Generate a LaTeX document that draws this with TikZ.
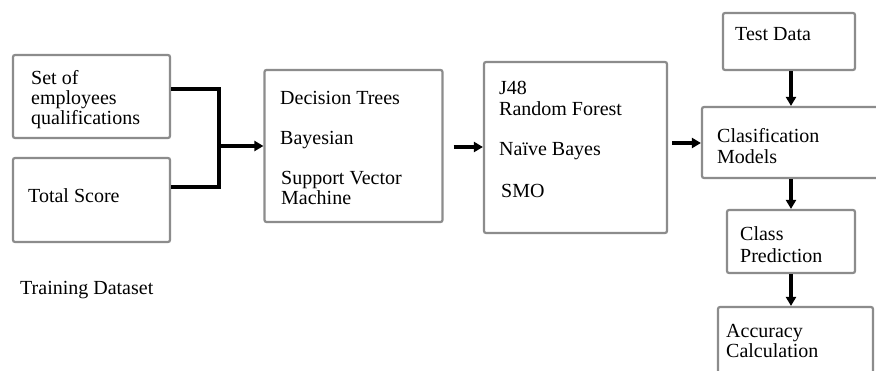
\documentclass[tikz,border=0pt]{standalone}
\usepackage{fontspec}
\setmainfont{Liberation Serif}
\usetikzlibrary{arrows.meta}
\begin{document}
\begin{tikzpicture}[x=1pt,y=-1pt,
  box/.style={draw=black!45, line width=2.2pt, rounded corners=2pt, fill=white, inner sep=0pt},
  txt/.style={anchor=base west, inner sep=0pt, font=\fontsize{20}{20}\selectfont},
  conn/.style={line width=3.5pt, black},
  arr/.style={conn, -{Triangle[length=9pt,width=10pt]}}]
\clip (0,0) rectangle (876,370);
\fill[white] (0,0) rectangle (876,370);
% boxes
\node[box, minimum width=157pt, minimum height=83pt] (b1) at (91.5,96.5) {};
\node[box, minimum width=157pt, minimum height=84pt] (b2) at (91.5,200) {};
\node[box, minimum width=178pt, minimum height=152pt] (b3) at (353.5,146) {};
\node[box, minimum width=183pt, minimum height=171pt] (b4) at (575.5,147.5) {};
\node[box, minimum width=132pt, minimum height=57pt] (td) at (789,41.5) {};
\node[box, minimum width=178pt, minimum height=71pt] (cm) at (791,142.5) {};
\node[box, minimum width=128pt, minimum height=63pt] (cp) at (791,241.5) {};
\node[box, minimum width=155pt, minimum height=75pt] (ac) at (795.5,344.5) {};
% texts
\node[txt] (t1a) at (31,84) {Set of};
\node[txt] (t1b) at (31,104) {employees};
\node[txt] (t1c) at (31,124) {qualifications};
\node[txt] (t2) at (28,202) {Total Score};
\node[txt] (t3a) at (280,104) {Decision Trees};
\node[txt] (t3b) at (280,144) {Bayesian};
\node[txt] (t3c) at (281,184) {Support Vector};
\node[txt] (t3d) at (281,204) {Machine};
\node[txt] (t4a) at (499,94) {J48};
\node[txt] (t4b) at (499,115) {Random Forest};
\node[txt] (t4c) at (499,155) {Naïve Bayes};
\node[txt] (t4d) at (501,197) {SMO};
\node[txt] (ttd) at (735,40) {Test Data};
\node[txt] (tcma) at (717,142) {Clasification};
\node[txt] (tcmb) at (717,163) {Models};
\node[txt] (tcpa) at (740,240) {Class};
\node[txt] (tcpb) at (740,262) {Prediction};
\node[txt] (taca) at (726,337) {Accuracy};
\node[txt] (tacb) at (726,357) {Calculation};
\node[txt] (ttr) at (20,294) {Training Dataset};
% connectors
\coordinate (j) at (219,146);
\draw[conn] (b1.east |- 0,89) -| (j) |- (b2.east |- 0,187);
\draw[arr] (j) -- (b3.west |- j);
\draw[arr, shorten <=10pt] (b3.east |- 0,147) -- (b4.west |- 0,147);
\draw[arr, shorten <=4pt] (b4.east |- 0,143) -- (cm.west |- 0,143);
\draw[arr] (td.south -| 791,0) -- (cm.north -| 791,0);
\draw[arr] (cm.south -| 791,0) -- (cp.north -| 791,0);
\draw[arr] (cp.south -| 791,0) -- (ac.north -| 791,0);
\end{tikzpicture}
\end{document}
